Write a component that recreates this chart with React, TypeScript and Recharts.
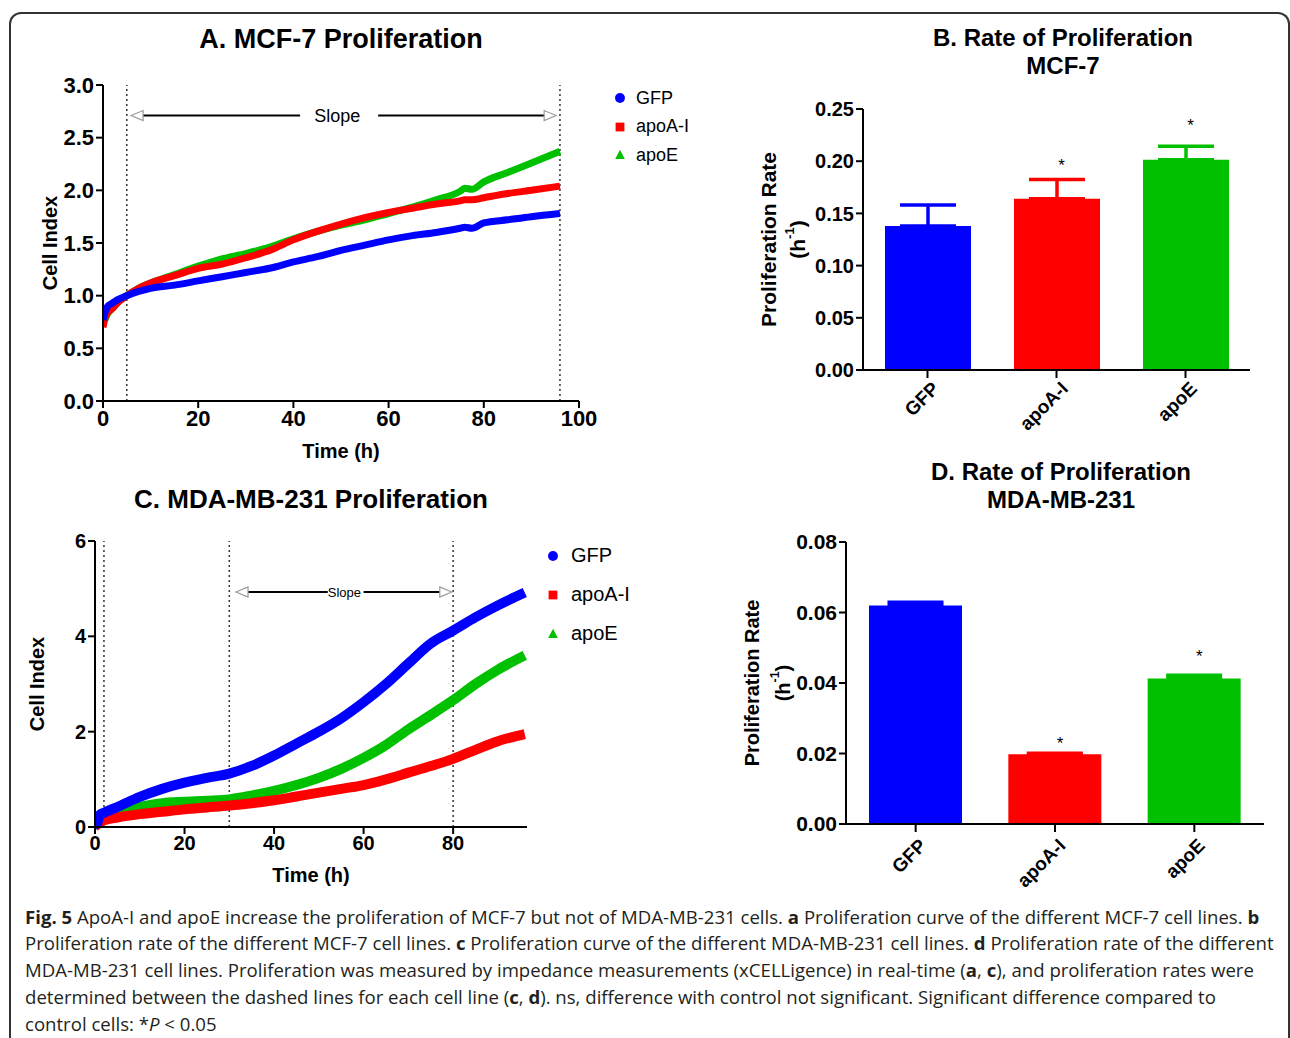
import React from 'react'
import {
  LineChart, Line, XAxis, YAxis, ReferenceLine, ReferenceDot, Legend,
  BarChart, Bar, ErrorBar,
} from 'recharts'

const FONT = '"Liberation Sans", Arial, Helvetica, sans-serif'

const groups = ['GFP', 'apoA-I', 'apoE']
const colors = ['#0000ff', '#ff0000', '#00c000']

// A. MCF-7 proliferation curves (cell index vs time)
const timesA = [0, 0.5, 1, 2, 3, 5, 7.5, 10, 15, 20, 25, 30, 35, 40, 45, 50, 55, 60, 65, 70, 75, 76, 77.5, 80, 85, 90, 96]
const gfpA = [0.77, 0.85, 0.9, 0.93, 0.96, 1.0, 1.04, 1.07, 1.1, 1.14, 1.18, 1.22, 1.26, 1.32, 1.37, 1.43, 1.48, 1.53, 1.57, 1.6, 1.64, 1.65, 1.64, 1.69, 1.72, 1.75, 1.78]
const apoaA = [0.7, 0.8, 0.84, 0.88, 0.93, 1.0, 1.07, 1.12, 1.19, 1.26, 1.3, 1.36, 1.43, 1.53, 1.61, 1.68, 1.74, 1.79, 1.83, 1.87, 1.9, 1.91, 1.91, 1.93, 1.97, 2.0, 2.04]
const apoeA = [0.76, 0.78, 0.83, 0.88, 0.93, 1.0, 1.07, 1.12, 1.2, 1.28, 1.35, 1.4, 1.46, 1.54, 1.61, 1.67, 1.72, 1.78, 1.84, 1.91, 1.99, 2.02, 2.01, 2.08, 2.17, 2.26, 2.37]
const xTicksA = [0, 20, 40, 60, 80, 100]
const yTicksA = [0, 0.5, 1, 1.5, 2, 2.5, 3]
const dashedA = [5, 96]
const slopeA = { y: 2.71, tipL: 5.9, lineL: 8.3, gapL: 41.4, text: 49.2, gapR: 57.8, lineR: 93, tipR: 95.2 }

// C. MDA-MB-231 proliferation curves
const timesC = [0, 0.5, 1, 2, 5, 10, 15, 20, 25, 30, 35, 40, 45, 50, 55, 60, 65, 70, 75, 80, 85, 90, 96]
const gfpC = [0.05, 0.08, 0.25, 0.3, 0.42, 0.63, 0.8, 0.93, 1.03, 1.12, 1.28, 1.5, 1.75, 2.0, 2.28, 2.62, 3.0, 3.43, 3.85, 4.12, 4.4, 4.65, 4.92]
const apoaC = [0.02, 0.05, 0.1, 0.14, 0.2, 0.27, 0.32, 0.37, 0.41, 0.45, 0.5, 0.56, 0.64, 0.72, 0.8, 0.88, 1.0, 1.14, 1.28, 1.43, 1.62, 1.8, 1.95]
const apoeC = [0.03, 0.06, 0.12, 0.2, 0.3, 0.42, 0.5, 0.53, 0.55, 0.58, 0.66, 0.76, 0.88, 1.03, 1.22, 1.45, 1.72, 2.05, 2.35, 2.66, 3.0, 3.3, 3.6]
const xTicksC = [0, 20, 40, 60, 80]
const yTicksC = [0, 2, 4, 6]
const dashedC = [2, 30, 80]
const slopeC = { y: 4.93, tipL: 31.5, lineL: 34, gapL: 52, text: 55.7, gapR: 60, lineR: 77, tipR: 79.7 }

// B. proliferation rate MCF-7
const rateB = [0.138, 0.164, 0.2014]
const errB = [0.02, 0.0185, 0.013]
const starB = [null, 0.199, 0.2375]
const yTicksB = [0, 0.05, 0.1, 0.15, 0.2, 0.25]

// D. proliferation rate MDA-MB-231
const rateD = [0.062, 0.0198, 0.0413]
const errD = [0.0009, 0.0003, 0.0009]
const starD = [null, 0.0238, 0.0485]
const yTicksD = [0, 0.02, 0.04, 0.06, 0.08]

const buildRows = (times: number[], gfp: number[], apoa: number[], apoe: number[]) =>
  times.map((t, i) => ({ t, GFP: gfp[i], 'apoA-I': apoa[i], apoE: apoe[i] }))

const buildBars = (rates: number[], errs: number[]) =>
  groups.map((g, i) => ({ name: g, [g]: rates[i], [g + '_err']: [0, errs[i]] }))

const rowsA = buildRows(timesA, gfpA, apoaA, apoeA)
const rowsC = buildRows(timesC, gfpC, apoaC, apoeC)
const barsB = buildBars(rateB, errB)
const barsD = buildBars(rateD, errD)

const axisStyle = { stroke: '#000', strokeWidth: 2 }

function Marker({ i, s }: { i: number; s: number }) {
  const c = colors[i]
  return (
    <svg width={s * 2} height={s * 2} style={{ display: 'block' }}>
      {i === 0 && <circle cx={s} cy={s} r={s * 0.62} fill={c} />}
      {i === 1 && <rect x={s * 0.45} y={s * 0.45} width={s * 1.1} height={s * 1.1} fill={c} />}
      {i === 2 && <polygon points={`${s},${s * 0.35} ${s * 1.6},${s * 1.5} ${s * 0.4},${s * 1.5}`} fill={c} />}
    </svg>
  )
}

function legendBox(size: number, markerSize: number, gap: number, rowH: number) {
  return () => (
    <div style={{ fontFamily: FONT, fontSize: size, color: '#000' }}>
      {groups.map((g, i) => (
        <div key={g} style={{ display: 'flex', alignItems: 'center', height: rowH }}>
          <Marker i={i} s={markerSize} />
          <span style={{ marginLeft: gap }}>{g}</span>
        </div>
      ))}
    </div>
  )
}

function slopeMarks(s: typeof slopeA, fontSize: number, key: string) {
  const head = (dir: number) => (p: any) => (
    <polygon
      points={`${p.cx},${p.cy} ${p.cx + dir * 12},${p.cy - 5} ${p.cx + dir * 12},${p.cy + 5}`}
      fill="#fff" stroke="#999" strokeWidth={1.2}
    />
  )
  return [
    <ReferenceLine key={key + 'l1'} segment={[{ x: s.lineL, y: s.y }, { x: s.gapL, y: s.y }]} stroke="#000" strokeWidth={2} />,
    <ReferenceLine key={key + 'l2'} segment={[{ x: s.gapR, y: s.y }, { x: s.lineR, y: s.y }]} stroke="#000" strokeWidth={2} />,
    <ReferenceDot key={key + 'h1'} x={s.tipL} y={s.y} r={0} shape={head(1)} />,
    <ReferenceDot key={key + 'h2'} x={s.tipR} y={s.y} r={0} shape={head(-1)} />,
    <ReferenceDot key={key + 't'} x={s.text} y={s.y} r={0}
      shape={(p: any) => (
        <text x={p.cx} y={p.cy} dy={fontSize * 0.36} textAnchor="middle" fontSize={fontSize} fill="#000">Slope</text>
      )} />,
  ]
}

const xTitle = (text: string, off: number, size: number) => (p: any) => {
  const vb = p.viewBox
  return (
    <text x={vb.x + vb.width / 2} y={vb.y + vb.height + off} textAnchor="middle" dominantBaseline="central"
      fontSize={size} fontWeight="bold" fill="#000">{text}</text>
  )
}

const yTitle = (text: string, off: number, size: number) => (p: any) => {
  const vb = p.viewBox
  const x = vb.x + vb.width - off
  const y = vb.y + vb.height / 2
  return (
    <text x={x} y={y} transform={`rotate(-90, ${x}, ${y})`} textAnchor="middle" dominantBaseline="central"
      fontSize={size} fontWeight="bold" fill="#000">{text}</text>
  )
}

const rateTitle = (off1: number, off2: number, size: number) => (p: any) => {
  const vb = p.viewBox
  const y = vb.y + vb.height / 2
  const x1 = vb.x + vb.width - off1
  const x2 = vb.x + vb.width - off2
  return (
    <g fontWeight="bold" fill="#000" fontSize={size}>
      <text x={x1} y={y} transform={`rotate(-90, ${x1}, ${y})`} textAnchor="middle" dominantBaseline="central">
        Proliferation Rate
      </text>
      <text x={x2} y={y} transform={`rotate(-90, ${x2}, ${y})`} textAnchor="middle" dominantBaseline="central">
        (h<tspan fontSize={size * 0.62} dy={-size * 0.38}>-1</tspan><tspan dy={size * 0.38}>)</tspan>
      </text>
    </g>
  )
}

const RotTick = (size: number, dx: number, dy: number) => (p: any) => (
  <g transform={`translate(${p.x + dx},${p.y + dy})`}>
    <text x={0} y={0} dy={size * 0.35} textAnchor="end" transform="rotate(-45)" fontSize={size} fontWeight="bold" fill="#000">
      {p.payload.value}
    </text>
  </g>
)

const starShape = (p: any) => (
  <text x={p.cx + 5} y={p.cy} dy={9} textAnchor="middle" fontSize={17} fill="#000">*</text>
)

function CurveChart(props: {
  rows: any[]; width: number; height: number; margin: any; xDomain: number[]; xTicks: number[];
  yDomain: number[]; yTicks: number[]; yFmt: (v: number) => string; yWidth: number; tickSize: number;
  dashed: number[]; slope: typeof slopeA; slopeFont: number; lineW: number; titleOffX: number; titleOffY: number;
  legend: any; legendPos: any
}) {
  const p = props
  return (
    <LineChart width={p.width} height={p.height} data={p.rows} margin={p.margin}>
      <XAxis dataKey="t" type="number" domain={p.xDomain} ticks={p.xTicks} interval={0} height={30}
        axisLine={axisStyle} tickLine={axisStyle} tickSize={7} tickMargin={2} allowDataOverflow
        tick={{ fill: '#000', fontSize: p.tickSize, fontWeight: 'bold' }}
        label={{ content: xTitle('Time (h)', p.titleOffX, 20) }} />
      <YAxis type="number" domain={p.yDomain} ticks={p.yTicks} interval={0} width={p.yWidth}
        axisLine={axisStyle} tickLine={axisStyle} tickSize={7} tickMargin={2} tickFormatter={p.yFmt}
        tick={{ fill: '#000', fontSize: p.tickSize, fontWeight: 'bold' }}
        label={{ content: yTitle('Cell Index', p.titleOffY, 20) }} />
      {p.dashed.map(d => (
        <ReferenceLine key={d} x={d} stroke="#333" strokeWidth={1.5} strokeDasharray="2 3" />
      ))}
      {slopeMarks(p.slope, p.slopeFont, 's')}
      <Line dataKey="apoE" stroke={colors[2]} strokeWidth={p.lineW} dot={false} type="monotone" isAnimationActive={false} />
      <Line dataKey="apoA-I" stroke={colors[1]} strokeWidth={p.lineW} dot={false} type="monotone" isAnimationActive={false} />
      <Line dataKey="GFP" stroke={colors[0]} strokeWidth={p.lineW} dot={false} type="monotone" isAnimationActive={false} />
      <Legend layout="vertical" align="center" verticalAlign="middle" content={p.legend}
        wrapperStyle={{ ...p.legendPos, width: 'auto', height: 'auto' }} />
    </LineChart>
  )
}

function RateChart(props: {
  rows: any[]; width: number; height: number; margin: any; yDomain: number[]; yTicks: number[];
  barSize: number; stars: (number | null)[]; off1: number; off2: number; labelSize: number; tickSize: number;
  tickDx: number; tickDy: number
}) {
  const p = props
  return (
    <BarChart width={p.width} height={p.height} data={p.rows} margin={p.margin} barSize={p.barSize}>
      <XAxis dataKey="name" height={80} axisLine={axisStyle} tickLine={axisStyle} tickSize={8}
        interval={0} tick={RotTick(19, p.tickDx, p.tickDy)} />
      <YAxis type="number" domain={p.yDomain} ticks={p.yTicks} interval={0} width={80}
        axisLine={axisStyle} tickLine={axisStyle} tickSize={7} tickMargin={2}
        tickFormatter={(v: number) => v.toFixed(2)}
        tick={{ fill: '#000', fontSize: p.tickSize, fontWeight: 'bold' }}
        label={{ content: rateTitle(p.off1, p.off2, p.labelSize) }} />
      {groups.map((g, i) => (
        <Bar key={g} dataKey={g} stackId="r" fill={colors[i]} isAnimationActive={false}>
          <ErrorBar dataKey={g + '_err'} direction="y" width={28} strokeWidth={3.5} stroke={colors[i]} />
        </Bar>
      ))}
      {groups.map((g, i) => p.stars[i] != null && (
        <ReferenceDot key={'st' + g} x={g} y={p.stars[i] as number} r={0} shape={starShape} />
      ))}
    </BarChart>
  )
}

const titleStyle = (cx: number, top: number, size: number): React.CSSProperties => ({
  position: 'absolute', left: cx - 300, top, width: 600, textAlign: 'center',
  fontFamily: FONT, fontWeight: 'bold', fontSize: size, lineHeight: '28px', color: '#000',
})

const capLine: React.CSSProperties = { whiteSpace: 'nowrap', height: 26.8 }

export default function App() {
  return (
    <div style={{ position: 'absolute', left: 0, top: 0, width: 1290, height: 1038, overflow: 'hidden', background: '#fff', fontFamily: FONT }}>
      <div style={{
        position: 'absolute', left: 9, top: 12, width: 1277, height: 1100,
        borderTop: '2px solid #333', borderLeft: '2px solid #333', borderRight: '2px solid #333',
        borderRadius: '12px 12px 0 0',
      }} />

      <div style={titleStyle(341, 25, 27)}>A. MCF-7 Proliferation</div>
      <div style={titleStyle(1063, 24, 24)}>B. Rate of Proliferation<br />MCF-7</div>
      <div style={titleStyle(311, 485, 26)}>C. MDA-MB-231 Proliferation</div>
      <div style={titleStyle(1061, 458, 24)}>D. Rate of Proliferation<br />MDA-MB-231</div>

      <div style={{ position: 'absolute', left: 0, top: 0 }}>
        <CurveChart rows={rowsA} width={720} height={470} margin={{ top: 85, right: 141, bottom: 39, left: 43 }}
          xDomain={[0, 100]} xTicks={xTicksA} yDomain={[0, 3]} yTicks={yTicksA} yFmt={(v) => v.toFixed(1)}
          yWidth={60} tickSize={22} dashed={dashedA} slope={slopeA} slopeFont={18} lineW={7}
          titleOffX={20} titleOffY={53} legend={legendBox(18, 8, 8, 28.5)} legendPos={{ left: 612, top: 84 }} />
      </div>

      <div style={{ position: 'absolute', left: 0, top: 470 }}>
        <CurveChart rows={rowsC} width={720} height={420} margin={{ top: 71, right: 193, bottom: 33, left: 45 }}
          xDomain={[0, 96.5]} xTicks={xTicksC} yDomain={[0, 6]} yTicks={yTicksC} yFmt={(v) => String(v)}
          yWidth={50} tickSize={20} dashed={dashedC} slope={slopeC} slopeFont={13} lineW={10}
          titleOffX={18} titleOffY={58} legend={legendBox(20, 8, 10, 39)} legendPos={{ left: 545, top: 66 }} />
      </div>

      <div style={{ position: 'absolute', left: 700, top: 0 }}>
        <RateChart rows={barsB} width={580} height={470} margin={{ top: 109, right: 30, bottom: 20, left: 83 }}
          yDomain={[0, 0.25]} yTicks={yTicksB} barSize={86} stars={starB} off1={95} off2={66} labelSize={21} tickSize={20}
          tickDx={8} tickDy={5} />
      </div>

      <div style={{ position: 'absolute', left: 700, top: 450 }}>
        <RateChart rows={barsD} width={590} height={460} margin={{ top: 92, right: 26, bottom: 6, left: 66 }}
          yDomain={[0, 0.08]} yTicks={yTicksD} barSize={93} stars={starD} off1={94} off2={63} labelSize={20} tickSize={21}
          tickDx={7} tickDy={8} />
      </div>

      <div style={{ position: 'absolute', left: 25, top: 903.6, fontFamily: '"Open Sans", sans-serif', fontSize: 18.6, lineHeight: '26.8px', color: '#231f20' }}>
        <div style={capLine}><b>Fig. 5</b> ApoA-I and apoE increase the proliferation of MCF-7 but not of MDA-MB-231 cells. <b>a</b> Proliferation curve of the different MCF-7 cell lines. <b>b</b></div>
        <div style={capLine}>Proliferation rate of the different MCF-7 cell lines. <b>c</b> Proliferation curve of the different MDA-MB-231 cell lines. <b>d</b> Proliferation rate of the different</div>
        <div style={capLine}>MDA-MB-231 cell lines. Proliferation was measured by impedance measurements (xCELLigence) in real-time (<b>a</b>, <b>c</b>), and proliferation rates were</div>
        <div style={capLine}>determined between the dashed lines for each cell line (<b>c</b>, <b>d</b>). ns, difference with control not significant. Significant difference compared to</div>
        <div style={capLine}>control cells: *<i>P</i> &lt; 0.05</div>
      </div>
    </div>
  )
}
